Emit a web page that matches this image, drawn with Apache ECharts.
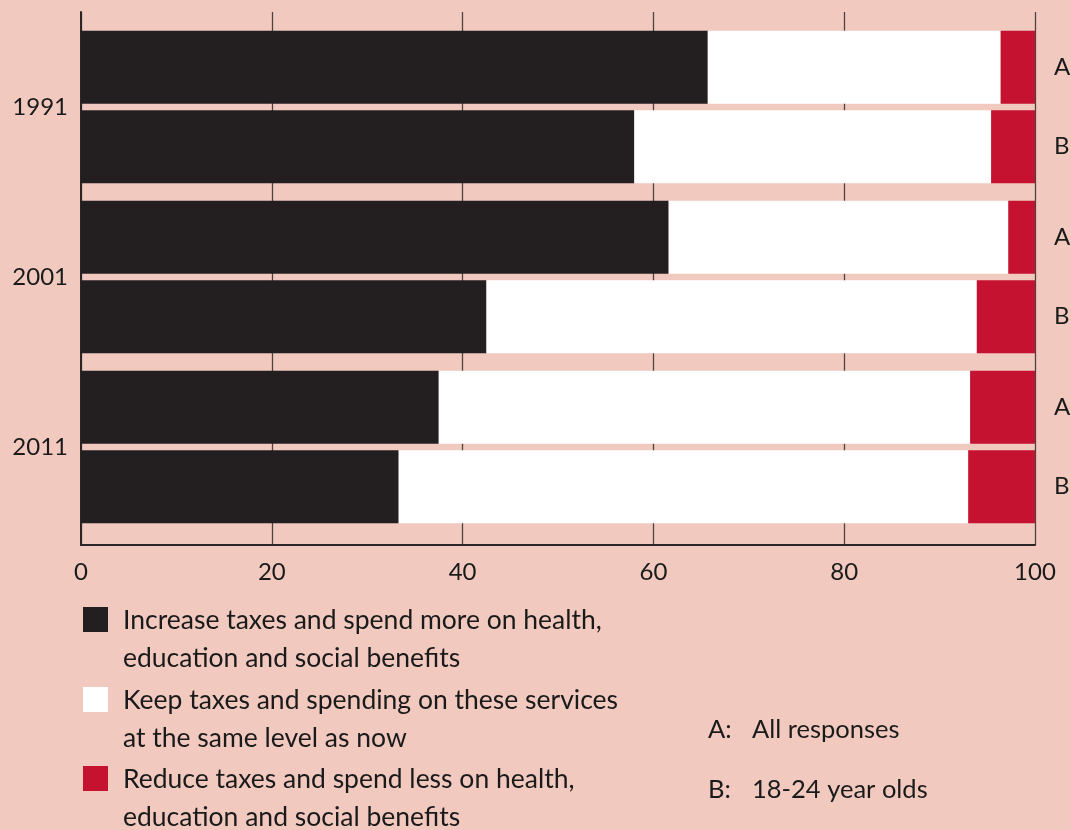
<!DOCTYPE html>
<html>
<head>
<meta charset="utf-8">
<script src="https://cdn.jsdelivr.net/npm/echarts@6/dist/echarts.min.js"></script>
<style>
  html, body { margin: 0; padding: 0; background: #f1c9bf; }
  #chart { width: 1071px; height: 830px; }
</style>
</head>
<body>
<div id="chart"></div>
<script>
// Survey years (one group of two bars each)
const years = ['1991', '2001', '2011'];
// Response options, stacked left to right
const seriesNames = [
  'Increase taxes and spend more on health,\neducation and social benefits',
  'Keep taxes and spending on these services\nat the same level as now',
  'Reduce taxes and spend less on health,\neducation and social benefits'
];
// A: all responses (%)
const increaseA = [65.7, 61.6, 37.5];
const keepA     = [30.7, 35.6, 55.7];
const reduceA   = [3.6, 2.8, 6.8];
// B: 18-24 year olds (%)
const increaseB = [58.0, 42.5, 33.3];
const keepB     = [37.4, 51.4, 59.7];
const reduceB   = [4.6, 6.1, 7.0];
// Group keys and their notes
const groupKeys = ['A', 'B'];
const groupNotes = ['All responses', '18-24 year olds'];
// Value axis ticks
const xTicks = [0, 20, 40, 60, 80, 100];

const colors = ['#231f20', '#ffffff', '#c41230'];
const FONT = 'Lato, "Open Sans", sans-serif';
const TEXT = '#1a1a1a';

const groups = [
  { key: groupKeys[0], values: [increaseA, keepA, reduceA] },
  { key: groupKeys[1], values: [increaseB, keepB, reduceB] }
];

const series = [];
groups.forEach(g => {
  g.values.forEach((vals, i) => {
    series.push({
      type: 'bar',
      name: seriesNames[i],
      stack: g.key,
      xAxisIndex: 0,
      yAxisIndex: 0,
      data: vals,
      barWidth: 73,
      barGap: '8.6%',
      itemStyle: { color: colors[i] },
      silent: true,
      label: i === 2 ? {
        show: true,
        position: 'right',
        distance: 19,
        formatter: g.key,
        fontFamily: FONT,
        fontSize: 24,
        color: TEXT
      } : { show: false }
    });
  });
});

// Legend drawn as squares with two-line captions
const legendGraphics = [];
const legendTop = [607, 687, 766];
seriesNames.forEach((name, i) => {
  legendGraphics.push({
    type: 'rect',
    left: 83, top: legendTop[i],
    shape: { width: 25, height: 25 },
    style: { fill: colors[i] }
  });
  legendGraphics.push({
    type: 'text',
    left: 123, top: legendTop[i] - 5,
    style: {
      text: name,
      font: '26.5px ' + FONT,
      fill: TEXT,
      lineHeight: 37.5
    }
  });
});
const noteTop = [717, 777];
groupKeys.forEach((k, i) => {
  legendGraphics.push({
    type: 'text', left: 708, top: noteTop[i],
    style: { text: k + ':', font: '25.5px ' + FONT, fill: TEXT }
  });
  legendGraphics.push({
    type: 'text', left: 752, top: noteTop[i],
    style: { text: groupNotes[i], font: '25.5px ' + FONT, fill: TEXT }
  });
});

const chart = echarts.init(document.getElementById('chart'));
chart.setOption({
  backgroundColor: '#f1c9bf',
  animation: false,
  grid: [
    { left: 81, right: 36, top: 22, bottom: 298 },
    { left: 81, right: 36, top: 12, bottom: 285 }
  ],
  xAxis: [
    { type: 'value', gridIndex: 0, min: 0, max: 100, interval: 20, show: false },
    {
      type: 'value', gridIndex: 1, min: 0, max: 100, interval: 20,
      axisLine: { show: true, lineStyle: { color: '#2b2526', width: 2 } },
      axisTick: { show: false },
      splitLine: { show: true, lineStyle: { color: '#4f4240', width: 1.3 } },
      axisLabel: {
        fontFamily: FONT, fontSize: 24, color: TEXT, margin: 15,
        formatter: v => xTicks.includes(v) ? String(v) : ''
      }
    }
  ],
  yAxis: [
    {
      type: 'category', gridIndex: 0, data: years, inverse: true,
      axisLine: { show: false }, axisTick: { show: false },
      axisLabel: { fontFamily: FONT, fontSize: 24, color: TEXT, margin: 13 }
    },
    {
      type: 'value', gridIndex: 1, min: 0, max: 1,
      axisLine: { show: true, lineStyle: { color: '#2b2526', width: 2 } },
      axisTick: { show: false }, axisLabel: { show: false },
      splitLine: { show: false }
    }
  ],
  series: series,
  graphic: legendGraphics
});
</script>
</body>
</html>
